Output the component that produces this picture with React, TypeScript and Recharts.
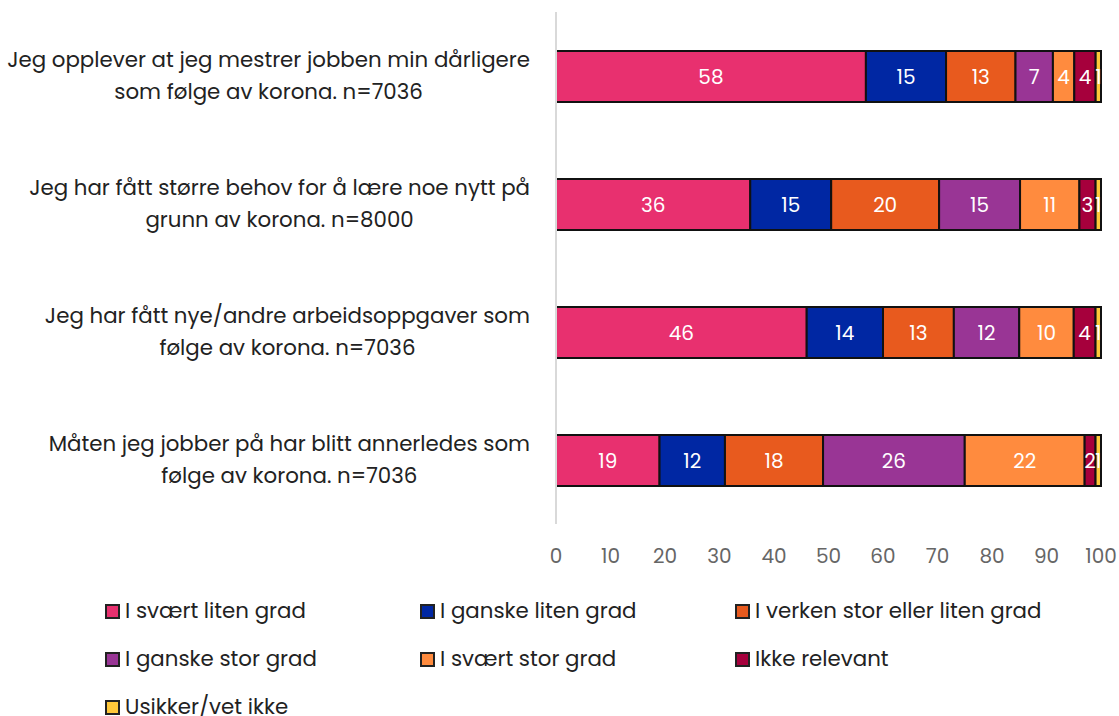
import { Bar, BarChart, LabelList, XAxis, YAxis } from "recharts";

const categories = [
  "Jeg opplever at jeg mestrer jobben min dårligere\nsom følge av korona. n=7036",
  "Jeg har fått større behov for å lære noe nytt på\ngrunn av korona. n=8000",
  "Jeg har fått nye/andre arbeidsoppgaver som\nfølge av korona. n=7036",
  "Måten jeg jobber på har blitt annerledes som\nfølge av korona. n=7036",
];

const svaertLiten = [58, 36, 46, 19];
const ganskeLiten = [15, 15, 14, 12];
const verken = [13, 20, 13, 18];
const ganskeStor = [7, 15, 12, 26];
const svaertStor = [4, 11, 10, 22];
const ikkeRelevant = [4, 3, 4, 2];
const usikker = [1, 1, 1, 1];

const xTicks = [0, 10, 20, 30, 40, 50, 60, 70, 80, 90, 100];

const series = [
  { key: "s1", name: "I svært liten grad", values: svaertLiten, color: "#e8306f" },
  { key: "s2", name: "I ganske liten grad", values: ganskeLiten, color: "#0027a3" },
  { key: "s3", name: "I verken stor eller liten grad", values: verken, color: "#e85a1e" },
  { key: "s4", name: "I ganske stor grad", values: ganskeStor, color: "#993595" },
  { key: "s5", name: "I svært stor grad", values: svaertStor, color: "#ff8b3e" },
  { key: "s6", name: "Ikke relevant", values: ikkeRelevant, color: "#a6003c" },
  { key: "s7", name: "Usikker/vet ikke", values: usikker, color: "#ffc83a" },
];

const FONT = "Poppins, 'Open Sans', sans-serif";
const FONT_SIZE = 21.33;

const data = categories.map((label, i) => {
  const row: Record<string, string | number> = { label };
  series.forEach((s) => (row[s.key] = s.values[i]));
  return row;
});

let canvasCtx: CanvasRenderingContext2D | null = null;
function textWidth(text: string) {
  if (!canvasCtx) canvasCtx = document.createElement("canvas").getContext("2d");
  if (!canvasCtx) return text.length * 10;
  canvasCtx.font = `${FONT_SIZE}px ${FONT}`;
  return canvasCtx.measureText(text).width;
}

// labels are centred on themselves, with the widest line ending at the tick x
function CategoryTick(props: { x?: number; y?: number; payload?: { value?: string } }) {
  const lines = String(props.payload?.value ?? "").split("\n");
  const right = Number(props.x);
  const y = Number(props.y);
  const widest = Math.max(...lines.map(textWidth));
  const cx = right - widest / 2;
  const lh = 32;
  const start = y - ((lines.length - 1) * lh) / 2;
  return (
    <text textAnchor="middle" fill="#222" fontSize={FONT_SIZE} fontFamily={FONT}>
      {lines.map((line, i) => (
        <tspan key={i} x={cx} y={start + i * lh} dy={7}>
          {line}
        </tspan>
      ))}
    </text>
  );
}

export default function App() {
  return (
    <div style={{ position: "absolute", left: 0, top: 0, width: 1119, height: 716, background: "#fff", fontFamily: FONT, overflow: "hidden" }}>
      <BarChart
        width={1119}
        height={580}
        data={data}
        layout="vertical"
        stackOffset="expand"
        margin={{ top: 12, right: 18, bottom: 0, left: 0 }}
      >
        <XAxis
          type="number"
          domain={[0, 1]}
          ticks={xTicks.map((t) => t / 100)}
          tickFormatter={(v: number) => String(Math.round(v * 100))}
          axisLine={false}
          tickLine={false}
          tickSize={6}
          tickMargin={19}
          height={56}
          tick={{ fill: "#666", fontSize: 20, fontFamily: FONT }}
          interval={0}
        />
        <YAxis
          type="category"
          dataKey="label"
          width={556}
          tickSize={0}
          tickMargin={26}
          axisLine={{ stroke: "#d9d9d9", strokeWidth: 2 }}
          tickLine={false}
          tick={<CategoryTick />}
          interval={0}
        />
        {series.map((s) => (
          <Bar
            key={s.key}
            dataKey={s.key}
            name={s.name}
            stackId="a"
            fill={s.color}
            stroke="#111"
            strokeWidth={2}
            barSize={51}
            isAnimationActive={false}
          >
            <LabelList dataKey={s.key} position="center" fill="#fff" fontSize={20} fontFamily={FONT} />
          </Bar>
        ))}
      </BarChart>
      <div style={{ position: "absolute", left: 0, top: 602, width: 1119 }}>
        {series.map((s, i) => (
          <div
            key={s.key}
            style={{
              position: "absolute",
              left: 105 + (i % 3) * 315,
              top: Math.floor(i / 3) * 48,
              display: "flex",
              alignItems: "center",
              height: 18,
              lineHeight: "18px",
              fontSize: FONT_SIZE,
              color: "#222",
              whiteSpace: "nowrap",
            }}
          >
            <span
              style={{
                display: "inline-block",
                width: 11,
                height: 11,
                background: s.color,
                border: "2px solid #222",
                marginRight: 5,
              }}
            />
            {s.name}
          </div>
        ))}
      </div>
    </div>
  );
}
